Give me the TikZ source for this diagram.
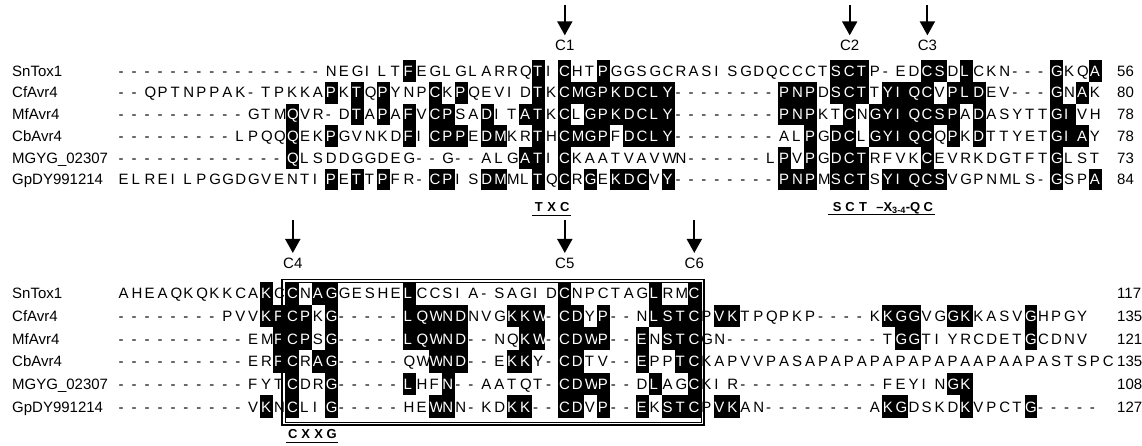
\documentclass[tikz,border=0pt]{standalone}
\usepackage{fontspec}
\setmainfont{Liberation Sans}
\usetikzlibrary{arrows.meta}
\newcount\seqcol
\def\rowy{0}
\def\cellh{21.7}
\newcommand\seqline[2]{\def\rowy{#1}\global\seqcol=0\relax\seqparse#2\relax}
\def\seqparse#1{\ifx#1\relax\else\seqchar{#1}\expandafter\seqparse\fi}
\newcommand\seqchar[1]{%
  \global\advance\seqcol by 1\relax
  \pgfmathsetmacro\seqx{118+(\the\seqcol-1)*12.95}%
  \if#1-%
    \node[seqtxt] at (\seqx,\rowy) {-};%
  \else
    \ifnum`#1<`a\relax
      \fill[black] (\seqx,{\rowy-\cellh/2}) rectangle ++(12.95,\cellh);%
      \node[seqtxt,text=white] at (\seqx,\rowy) {#1};%
    \else
      \uppercase{\def\seqc{#1}}%
      \node[seqtxt] at (\seqx,\rowy) {\seqc};%
    \fi
  \fi}
\tikzset{
  seqtxt/.style={anchor=base west,inner sep=0pt,outer sep=0pt,font=\fontsize{15}{18}\selectfont,xshift=0.7pt,yshift=-5.3pt},
  nametxt/.style={anchor=base west,inner sep=0pt,font=\fontsize{15}{18}\selectfont,yshift=-5.3pt},
  numtxt/.style={anchor=base west,inner sep=0pt,font=\fontsize{15}{18}\selectfont,yshift=-5.3pt},
  lbl/.style={anchor=base,inner sep=0pt,font=\fontsize{15}{18}\selectfont},
  motif/.style={anchor=base,inner sep=0pt,font=\fontsize{13}{15}\selectfont\bfseries},
  arr/.style={line width=2pt,-{Triangle[width=15pt,length=14pt]}},
  uline/.style={line width=1.6pt}
}
\begin{document}
\begin{tikzpicture}[x=1pt,y=-1pt]
\useasboundingbox (0,0) rectangle (1142,446);
\fill[white] (0,0) rectangle (1142,446);
% ---------------- block 1 ----------------
\def\cellh{21.7}
\seqline{71}{----------------negiltFeglglarrqTiChtPggsgcrasisgdqccctSCTp-edCSdLckn---GkqA}
\seqline{92.7}{--qptnppak-tpkkaPkTqPynpCkPqevidTkCMGPKDCLY--------PNPdSCTtYIQCvPLDev---GnAk}
\seqline{114.4}{----------gtmQvr-dTaPaFvCPsaDitATkClGPKDCLY--------PNPktCnGYIQCSPaDasyttGIvh}
\seqline{136.1}{---------lpqqQekPgvnkdFiCPPeDMkrThCMGPfDCLY--------alPgDClGYIQCqPkDttyetGIAy}
\seqline{157.8}{-------------Qlsddggdeg--g--algATiCkaatvavwn------lPvPgDCTrfvkCevrkdgtftGlst}
\seqline{179.5}{elreilpggdgventiPeTtPfr-CPisDMmlTqCrGeKDCvY--------PNPmSCTsYIQCSvgpnmls-GspA}
\foreach \nm/\num/\yy in {SnTox1/56/71, CfAvr4/80/92.7, MfAvr4/78/114.4, CbAvr4/78/136.1, MGYG\_02307/73/157.8, GpDY991214/84/179.5}{
  \node[nametxt] at (12,\yy) {\nm};
  \node[numtxt] at (1117,\yy) {\num};
}
% arrows block 1
\foreach \lab/\xx in {C1/564.8, C2/849.7, C3/927.4}{
  \node[lbl] (\lab) at (\xx,51) {\lab};
  \coordinate (\lab top) at (\xx,5);
  \draw[arr] (\lab top) -- ([yshift=5pt]\lab.north);
}
% motif TXC
\node[motif] (m1) at (538.9,211.5) {T};
\node[motif] (m2) at (551.8,211.5) {X};
\node[motif] (m3) at (564.8,211.5) {C};
\coordinate (u1a) at (532.4,215.5); \coordinate (u1b) at (571.3,215.5);
\draw[uline] (u1a) -- (u1b);
% motif SCT-X3-4-QC
\node[motif] (s1) at (837.1,211.5) {S};
\node[motif] (s2) at (850.0,211.5) {C};
\node[motif] (s3) at (863.0,211.5) {T};
\node[motif,anchor=base east] (s4) at (920.5,211.5) {--X\textsubscript{3-4}-Q};
\node[motif] (s5) at (928.3,211.5) {C};
\coordinate (u2a) at (828,214.5); \coordinate (u2b) at (935,214.5);
\draw[uline] (u2a) -- (u2b);
% ---------------- block 2 ----------------
\def\cellh{22.7}
\seqline{293.3}{aheaqkqkkcaKcCnAGgesheLccsia-sagidCnpctagLrmC}
\seqline{316}{--------pvvKFCPkG-----LQWNDnvgKKW-CDyP--nLSTCpVKtpqpkp----kKGGvgGKkasvGhpgy}
\seqline{338.7}{----------emFCPsG-----LQWND--nqKW-CDWP--EnSTCgn------------tGGtiyrcdetGcdnv}
\seqline{361.4}{----------erFCrAG-----qwWND--eKKy-CDtv--EppTCkapvvpasapapapapapapaapaapastspc}
\seqline{384.1}{----------fytCdrG-----LhfN--aatqt-CDWP--dLagCkir-----------feyinGK}
\seqline{406.8}{----------vKnCliG-----heWNn-kdKK--CDvP--EkSTCpVKan--------aKGdskdKvpctG-----}
\foreach \nm/\num/\yy in {SnTox1/117/293.3, CfAvr4/135/316, MfAvr4/121/338.7, CbAvr4/135/361.4, MGYG\_02307/108/384.1, GpDY991214/127/406.8}{
  \node[nametxt] at (12,\yy) {\nm};
  \node[numtxt] at (1117,\yy) {\num};
}
% boxed region
\draw[line width=1.6pt] (282,279.5) rectangle (704,425);
\draw[line width=0.6pt] (285,282.5) rectangle (701,422);
% arrows block 2
\foreach \lab/\xx in {C4/292.8, C5/564.8, C6/694.3}{
  \node[lbl] (\lab) at (\xx,268.6) {\lab};
  \coordinate (\lab top) at (\xx,220);
  \draw[arr] (\lab top) -- ([yshift=5pt]\lab.north);
}
% motif CXXG
\node[motif] (x1) at (292.8,438) {C};
\node[motif] (x2) at (305.7,438) {X};
\node[motif] (x3) at (318.7,438) {X};
\node[motif] (x4) at (331.6,438) {G};
\coordinate (u3a) at (286,442.5); \coordinate (u3b) at (338,442.5);
\draw[uline] (u3a) -- (u3b);
\end{tikzpicture}
\end{document}
